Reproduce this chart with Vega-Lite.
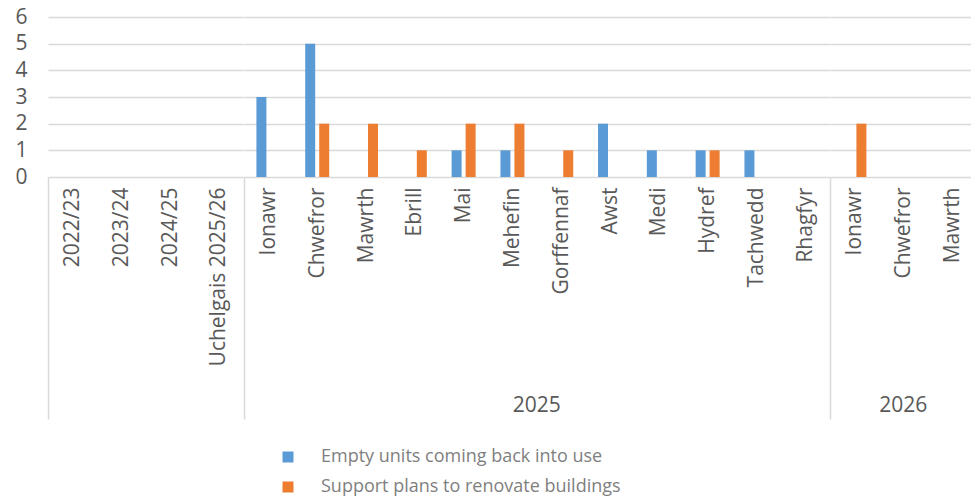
{
  "$schema": "https://vega.github.io/schema/vega-lite/v6.json",
  "background": "white",
  "padding": {"left": 14, "top": 6, "right": 0, "bottom": 0},
  "data": {"values": [
    {"cat": "2022/23", "grp": "Y", "o": 1, "series": "Empty units coming back into use", "value": 0},
    {"cat": "2022/23", "grp": "Y", "o": 1, "series": "Support plans to renovate buildings", "value": 0},
    {"cat": "2023/24", "grp": "Y", "o": 2, "series": "Empty units coming back into use", "value": 0},
    {"cat": "2023/24", "grp": "Y", "o": 2, "series": "Support plans to renovate buildings", "value": 0},
    {"cat": "2024/25", "grp": "Y", "o": 3, "series": "Empty units coming back into use", "value": 0},
    {"cat": "2024/25", "grp": "Y", "o": 3, "series": "Support plans to renovate buildings", "value": 0},
    {"cat": "Uchelgais 2025/26", "grp": "Y", "o": 4, "series": "Empty units coming back into use", "value": 0},
    {"cat": "Uchelgais 2025/26", "grp": "Y", "o": 4, "series": "Support plans to renovate buildings", "value": 0},
    {"cat": "Ionawr|2025", "grp": "2025", "o": 5, "series": "Empty units coming back into use", "value": 3},
    {"cat": "Ionawr|2025", "grp": "2025", "o": 5, "series": "Support plans to renovate buildings", "value": 0},
    {"cat": "Chwefror|2025", "grp": "2025", "o": 6, "series": "Empty units coming back into use", "value": 5},
    {"cat": "Chwefror|2025", "grp": "2025", "o": 6, "series": "Support plans to renovate buildings", "value": 2},
    {"cat": "Mawrth|2025", "grp": "2025", "o": 7, "series": "Empty units coming back into use", "value": 0},
    {"cat": "Mawrth|2025", "grp": "2025", "o": 7, "series": "Support plans to renovate buildings", "value": 2},
    {"cat": "Ebrill|2025", "grp": "2025", "o": 8, "series": "Empty units coming back into use", "value": 0},
    {"cat": "Ebrill|2025", "grp": "2025", "o": 8, "series": "Support plans to renovate buildings", "value": 1},
    {"cat": "Mai|2025", "grp": "2025", "o": 9, "series": "Empty units coming back into use", "value": 1},
    {"cat": "Mai|2025", "grp": "2025", "o": 9, "series": "Support plans to renovate buildings", "value": 2},
    {"cat": "Mehefin|2025", "grp": "2025", "o": 10, "series": "Empty units coming back into use", "value": 1},
    {"cat": "Mehefin|2025", "grp": "2025", "o": 10, "series": "Support plans to renovate buildings", "value": 2},
    {"cat": "Gorffennaf|2025", "grp": "2025", "o": 11, "series": "Empty units coming back into use", "value": 0},
    {"cat": "Gorffennaf|2025", "grp": "2025", "o": 11, "series": "Support plans to renovate buildings", "value": 1},
    {"cat": "Awst|2025", "grp": "2025", "o": 12, "series": "Empty units coming back into use", "value": 2},
    {"cat": "Awst|2025", "grp": "2025", "o": 12, "series": "Support plans to renovate buildings", "value": 0},
    {"cat": "Medi|2025", "grp": "2025", "o": 13, "series": "Empty units coming back into use", "value": 1},
    {"cat": "Medi|2025", "grp": "2025", "o": 13, "series": "Support plans to renovate buildings", "value": 0},
    {"cat": "Hydref|2025", "grp": "2025", "o": 14, "series": "Empty units coming back into use", "value": 1},
    {"cat": "Hydref|2025", "grp": "2025", "o": 14, "series": "Support plans to renovate buildings", "value": 1},
    {"cat": "Tachwedd|2025", "grp": "2025", "o": 15, "series": "Empty units coming back into use", "value": 1},
    {"cat": "Tachwedd|2025", "grp": "2025", "o": 15, "series": "Support plans to renovate buildings", "value": 0},
    {"cat": "Rhagfyr|2025", "grp": "2025", "o": 16, "series": "Empty units coming back into use", "value": 0},
    {"cat": "Rhagfyr|2025", "grp": "2025", "o": 16, "series": "Support plans to renovate buildings", "value": 0},
    {"cat": "Ionawr|2026", "grp": "2026", "o": 17, "series": "Empty units coming back into use", "value": 0},
    {"cat": "Ionawr|2026", "grp": "2026", "o": 17, "series": "Support plans to renovate buildings", "value": 2},
    {"cat": "Chwefror|2026", "grp": "2026", "o": 18, "series": "Empty units coming back into use", "value": 0},
    {"cat": "Chwefror|2026", "grp": "2026", "o": 18, "series": "Support plans to renovate buildings", "value": 0},
    {"cat": "Mawrth|2026", "grp": "2026", "o": 19, "series": "Empty units coming back into use", "value": 0},
    {"cat": "Mawrth|2026", "grp": "2026", "o": 19, "series": "Support plans to renovate buildings", "value": 0}
  ]},
  "facet": {
    "column": {
      "field": "grp", "type": "nominal", "sort": ["Y", "2025", "2026"], "title": null,
      "header": {"labelOrient": "bottom", "labelExpr": "datum.value == 'Y' ? '' : datum.value", "labelFontSize": 21, "labelFont": "Open Sans", "labelColor": "#595959", "labelPadding": 218}
    }
  },
  "spacing": 0,
  "bounds": "flush",
  "resolve": {"scale": {"x": "independent"}},
  "spec": {
    "width": {"step": 14},
    "height": 160,
    "mark": {"type": "bar"},
    "encoding": {
      "x": {
        "field": "cat", "type": "nominal", "sort": {"field": "o", "op": "min"},
        "scale": {"paddingInner": 0, "paddingOuter": 0},
        "axis": {
          "title": null, "labelAngle": -90, "labelExpr": "split(datum.label, '|')[0]",
          "labelFontSize": 21, "labelFont": "Open Sans", "labelColor": "#595959",
          "tickBand": "extent", "tickSize": 242, "tickColor": "#d9d9d9", "tickWidth": 1.5,
          "tickOpacity": {"condition": {"test": "datum.index < 0", "value": 1}, "value": 0},
          "labelPadding": -232, "domain": false, "grid": false
        }
      },
      "xOffset": {"field": "series", "type": "nominal", "scale": {"paddingInner": 0.286, "paddingOuter": 0.886}},
      "y": {
        "field": "value", "type": "quantitative", "scale": {"domain": [0, 6]},
        "axis": {
          "title": null, "values": [0, 1, 2, 3, 4, 5, 6], "grid": true, "gridColor": "#d9d9d9", "gridWidth": 1.5,
          "domain": false, "ticks": false, "labelPadding": 21, "labelFontSize": 21, "labelFont": "Open Sans", "labelColor": "#595959"
        }
      },
      "color": {
        "field": "series", "type": "nominal",
        "scale": {"range": ["#5b9bd5", "#ed7d31"]},
        "legend": {
          "title": null, "orient": "none", "legendX": 231, "legendY": 431, "direction": "vertical",
          "symbolType": "square", "symbolSize": 121, "symbolStrokeWidth": 0, "labelLimit": 0,
          "labelFontSize": 18, "labelFont": "Open Sans", "labelColor": "#7f7f7f", "labelOffset": 24, "rowPadding": 12
        }
      }
    }
  },
  "config": {"view": {"stroke": null}}
}
